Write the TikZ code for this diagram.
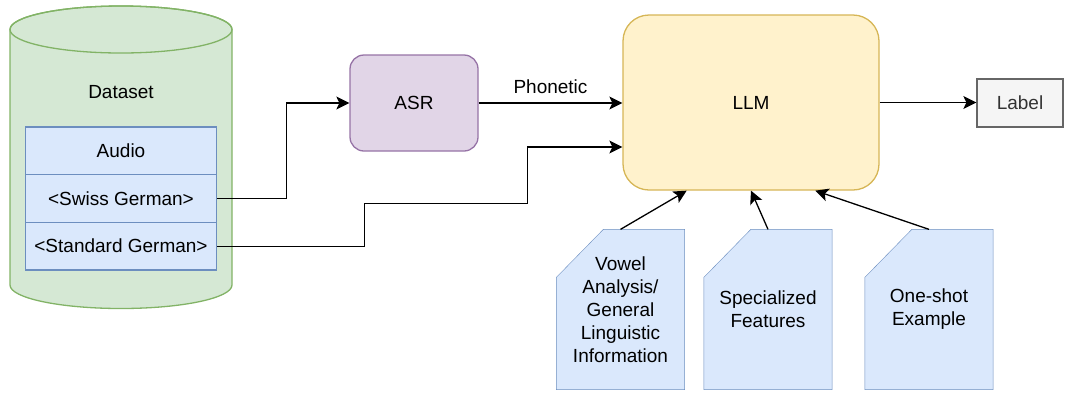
\documentclass[tikz,border=0pt]{standalone}
\usepackage{fontspec}
\setmainfont{Liberation Sans}
\usetikzlibrary{arrows.meta,positioning,calc,backgrounds}

\definecolor{greenfill}{HTML}{D5E8D4}
\definecolor{greenline}{HTML}{82B366}
\definecolor{bluefill}{HTML}{DAE8FC}
\definecolor{blueline}{HTML}{6C8EBF}
\definecolor{purplefill}{HTML}{E1D5E7}
\definecolor{purpleline}{HTML}{9673A6}
\definecolor{yellowfill}{HTML}{FFF2CC}
\definecolor{yellowline}{HTML}{D6B656}
\definecolor{greyfill}{HTML}{F5F5F5}
\definecolor{greyline}{HTML}{666666}
\definecolor{greytext}{HTML}{333333}

\begin{document}
\begin{tikzpicture}[
    x=1pt, y=-1pt,
    font=\fontsize{19}{23}\selectfont,
    line width=1.3pt,
    dbshape/.style={draw=greenline, fill=greenfill},
    rowbox/.style={draw=blueline, fill=bluefill, minimum width=191pt, minimum height=47.7pt, inner sep=0pt},
    asrbox/.style={draw=purpleline, fill=purplefill, rounded corners=14pt, minimum width=128pt, minimum height=96pt},
    llmbox/.style={draw=yellowline, fill=yellowfill, rounded corners=26pt, minimum width=256pt, minimum height=175pt},
    labelbox/.style={draw=greyline, fill=greyfill, text=greytext, minimum width=86pt, minimum height=48pt},
    docbox/.style={minimum width=127pt, minimum height=159pt, inner sep=0pt, align=center},
    docshape/.style={draw=blueline, fill=bluefill},
    arrow/.style={-{Stealth[length=13pt, width=13pt, inset=3pt]}, line width=1.3pt}
]
    \useasboundingbox (0,0) rectangle (1065,392);

    % Dataset (cylinder)
    \draw[dbshape] (10,29.5) -- (10,285) arc[start angle=180, end angle=0, x radius=111, y radius=23.5]
        -- (232,29.5) arc[start angle=0, end angle=-180, x radius=111, y radius=23.5] -- cycle;
    \draw[draw=greenline] (121,29.5) ellipse[x radius=111, y radius=23.5];
    \node (dataset) at (121,92) {Dataset};

    \node[rowbox] (audio_row) at (121,150.8) {Audio};
    \node[rowbox] (swiss_row) at (121,198.5) {<Swiss German>};
    \node[rowbox] (standard_row) at (121,246.2) {<Standard German>};

    % Models
    \node[asrbox] (asr) at (414,103) {ASR};
    \node[llmbox] (llm) at (751,102.5) {LLM};
    \node[labelbox] (label) at (1020,103) {Label};

    % Prompt parts
    \node[docbox] (doc_vowel) at (620.5,309.5) {Vowel\\Analysis/\\General\\Linguistic\\Information};
    \node[docbox] (doc_feat) at (768,309.5) {Specialized\\Features};
    \node[docbox] (doc_shot) at (929,309.5) {One-shot\\Example};

    % card outline behind the text, corner cut at top left
    \begin{scope}[on background layer]
        \foreach \d in {doc_vowel,doc_feat,doc_shot}
            \draw[docshape] (\d.north east) -- (\d.south east) -- (\d.south west)
                -- ([yshift=-48pt]\d.north west) -- ([xshift=47pt]\d.north west) -- cycle;
    \end{scope}

    % Edges
    \draw[arrow] (swiss_row.east) -- ++(69,0) |- (asr.west);
    \draw[arrow] (asr.east) -- node[above=5pt] {Phonetic} (asr.east -| llm.west);
    \draw[arrow] (standard_row.east) -- ++(147,0) -- ++(0,-43) -- ++(163,0) |- ($(llm.west)+(0,44.5)$);
    \draw[arrow] (llm.east) -- (llm.east -| label.west);

    \draw[arrow] (doc_vowel.north) -- ($(llm.south west)!0.25!(llm.south east)$);
    \draw[arrow] (doc_feat.north) -- ($(llm.south west)!0.5!(llm.south east)$);
    \draw[arrow] (doc_shot.north) -- ($(llm.south west)!0.75!(llm.south east)$);
\end{tikzpicture}
\end{document}
